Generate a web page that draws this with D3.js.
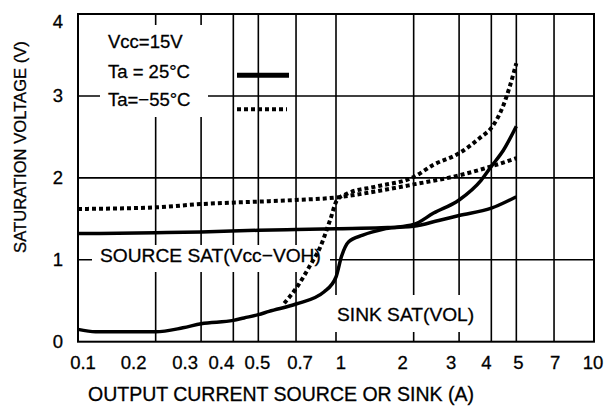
<!DOCTYPE html>
<html><head><meta charset="utf-8">
<script src="https://cdn.jsdelivr.net/npm/d3@7"></script>
<style>
html,body{margin:0;padding:0;background:#fff;}
svg{display:block;font-family:"Liberation Sans",Arial,Helvetica,sans-serif;}
svg text{stroke:#000;stroke-width:0.3px;}
</style></head>
<body><svg id="c" width="607" height="414"></svg>
<script>
// ---- data ----
const xTicks = [0.1, 0.2, 0.3, 0.4, 0.5, 0.7, 1, 2, 3, 4, 5, 7, 10];
const yTicks = [0, 1, 2, 3, 4];

// Source saturation (Vcc-VOH), Ta = 25°C
const source25I = [0.1, 0.2, 0.3, 0.5, 0.7, 1, 1.5, 2, 2.5, 3, 4, 5];
const source25V = [1.32, 1.33, 1.34, 1.36, 1.37, 1.38, 1.39, 1.41, 1.48, 1.54, 1.63, 1.77];
// Source saturation, Ta = -55°C
const source55I = [0.1, 0.2, 0.3, 0.5, 0.7, 1, 1.4, 2, 3, 4, 5];
const source55V = [1.62, 1.64, 1.68, 1.71, 1.73, 1.76, 1.83, 1.92, 2.03, 2.14, 2.24];
// Sink saturation (VOL), Ta = 25°C
const sink25I = [0.1, 0.117, 0.2, 0.255, 0.3, 0.4, 0.44, 0.5, 0.55, 0.7, 0.9, 1.0, 1.05, 1.12, 1.27, 1.56, 2, 2.39, 3, 3.65, 4, 4.46, 5];
const sink25V = [0.15, 0.12, 0.12, 0.17, 0.22, 0.26, 0.29, 0.33, 0.37, 0.46, 0.61, 0.79, 1.04, 1.22, 1.30, 1.38, 1.43, 1.57, 1.73, 1.97, 2.14, 2.34, 2.63];
// Sink saturation, Ta = -55°C
const sink55I = [0.63, 0.7, 0.79, 0.87, 0.95, 1.01, 1.11, 1.41, 2, 2.39, 3, 3.65, 4, 4.46, 4.71, 5];
const sink55V = [0.47, 0.65, 0.92, 1.16, 1.49, 1.73, 1.81, 1.89, 2.01, 2.16, 2.30, 2.50, 2.61, 2.89, 3.11, 3.40];

const legendTexts = ["Vcc=15V", "Ta = 25°C", "Ta=\u221255°C"];
const sourceLabel = "SOURCE SAT(Vcc\u2212VOH)";
const sinkLabel = "SINK SAT(VOL)";
const xTitle = "OUTPUT CURRENT SOURCE OR SINK (A)";
const yTitle = "SATURATION VOLTAGE (V)";

// ---- layout ----
const L = 78, R = 594, T = 14, B = 341.7;
// horizontal nudges of the x tick labels (pixels), as placed in the original print
const xLabelNudge = [5, -22, -16, -12, -1, 4, 5, -11, -8, -5, 2, 1, -1];
const svg = d3.select("#c");
const x = d3.scaleLog().domain([0.1, 10]).range([L, R]);
const y = d3.scaleLinear().domain([0, 4]).range([B, T]);

const grid = svg.append("g").attr("stroke", "#000").attr("stroke-width", 1.6);
grid.selectAll("line.v").data(xTicks.slice(1, -1)).join("line")
  .attr("x1", d => x(d)).attr("x2", d => x(d)).attr("y1", T).attr("y2", B);
grid.selectAll("line.h").data(yTicks.slice(1, -1)).join("line")
  .attr("x1", L).attr("x2", R).attr("y1", d => y(d)).attr("y2", d => y(d));

// white boxes behind labels
const boxes = [[100, 25, 108, 92], [92, 245, 238, 27], [333, 295, 147, 37]];
svg.append("g").selectAll("rect").data(boxes).join("rect")
  .attr("x", d => d[0]).attr("y", d => d[1]).attr("width", d => d[2]).attr("height", d => d[3])
  .attr("fill", "#fff");

// frame
svg.append("rect").attr("x", L).attr("y", T).attr("width", R - L).attr("height", B - T)
  .attr("fill", "none").attr("stroke", "#000").attr("stroke-width", 2);

// tick labels
svg.append("g").selectAll("text").data(xTicks).join("text")
  .attr("x", (d, i) => x(d) + xLabelNudge[i]).attr("y", 368.5).attr("text-anchor", "middle")
  .attr("font-size", 18.5).text(d => String(d));
svg.append("g").selectAll("text").data(yTicks).join("text")
  .attr("x", 58).attr("y", d => Math.max(y(d), T + 7) + 6.5).attr("text-anchor", "middle")
  .attr("font-size", 18.5).text(d => String(d));

// axis titles
svg.append("text").attr("x", 281).attr("y", 400.7).attr("text-anchor", "middle")
  .attr("font-size", 19.5).text(xTitle);
svg.append("text").attr("transform", "translate(26,147) rotate(-90)").attr("text-anchor", "middle")
  .attr("font-size", 16.6).text(yTitle);

// legend
svg.append("g").selectAll("text").data(legendTexts).join("text")
  .attr("x", 108).attr("y", (d, i) => [48.3, 78.3, 106][i])
  .attr("font-size", 18.5).text(d => d);
svg.append("line").attr("x1", 237).attr("x2", 289).attr("y1", 75.3).attr("y2", 75.3)
  .attr("stroke", "#000").attr("stroke-width", 5);
svg.append("line").attr("x1", 237).attr("x2", 287).attr("y1", 109.3).attr("y2", 109.3)
  .attr("stroke", "#000").attr("stroke-width", 4).attr("stroke-dasharray", "4,3");

// annotations
svg.append("text").attr("x", 100).attr("y", 261.7).attr("font-size", 19.2).text(sourceLabel);
svg.append("text").attr("x", 337).attr("y", 320.7).attr("font-size", 19.2).text(sinkLabel);

// curves
const line = d3.line().x(d => x(d[0])).y(d => y(d[1])).curve(d3.curveMonotoneX);
const series = [
  {I: source25I, V: source25V, dash: null, w: 3.5},
  {I: sink25I, V: sink25V, dash: null, w: 3.5},
  {I: source55I, V: source55V, dash: "4,3", w: 4},
  {I: sink55I, V: sink55V, dash: "4,3", w: 4}
];
svg.append("g").selectAll("path").data(series).join("path")
  .attr("d", s => line(s.I.map((v, i) => [v, s.V[i]])))
  .attr("fill", "none").attr("stroke", "#000")
  .attr("stroke-width", s => s.w)
  .attr("stroke-dasharray", s => s.dash);
</script></body></html>
